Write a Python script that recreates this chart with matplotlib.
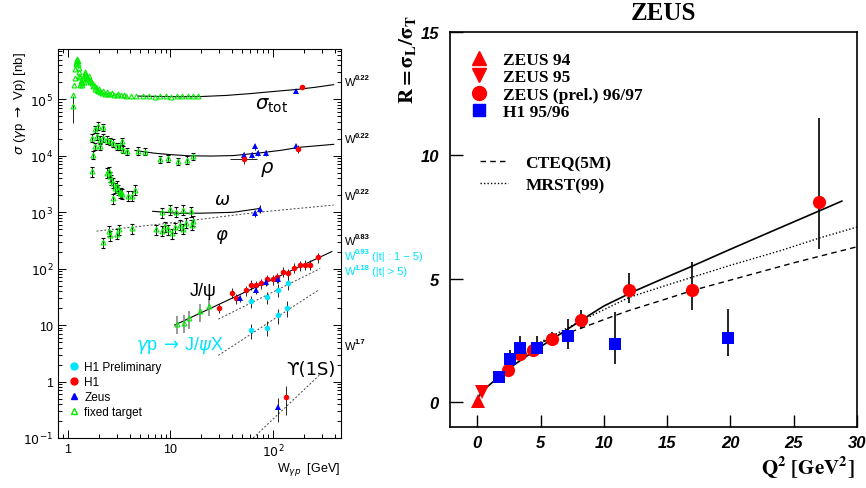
import matplotlib
matplotlib.use("Agg")
import matplotlib.pyplot as plt
from matplotlib.lines import Line2D

# ---------------- left panel: sigma(gamma p -> V p) vs W ----------------
# total cross section, fixed target (nb)
tot_ft_w = [1.11, 1.13, 1.14, 1.16, 1.17, 1.19, 1.20, 1.22, 1.23, 1.25, 1.26, 1.27,
            1.28, 1.29, 1.31, 1.32, 1.33, 1.35, 1.36, 1.38, 1.41, 1.42, 1.44, 1.47,
            1.48, 1.50, 1.53, 1.55, 1.57, 1.60, 1.61, 1.65, 1.68, 1.70, 1.75, 1.78,
            1.83, 1.88, 1.90, 1.95, 2.0, 2.05, 2.15, 2.2, 2.3, 2.4, 2.45, 2.6, 2.7,
            2.8, 3.0, 3.1, 3.3, 3.5, 3.7, 4.1, 4.6, 5.4, 6.2, 7.0, 7.9, 9.0, 10.2,
            11.5, 13.0, 14.8, 16.7, 18.7]
tot_ft_s = [76e3, 120e3, 175e3, 240e3, 340e3, 420e3, 450e3, 500e3, 510e3, 470e3,
            420e3, 260e3, 350e3, 300e3, 250e3, 180e3, 210e3, 190e3, 175e3, 200e3,
            230e3, 200e3, 260e3, 280e3, 300e3, 270e3, 250e3, 230e3, 240e3, 260e3,
            215e3, 200e3, 210e3, 190e3, 170e3, 180e3, 150e3, 165e3, 145e3, 140e3,
            150e3, 133e3, 130e3, 140e3, 125e3, 135e3, 123e3, 122e3, 128e3, 120e3,
            118e3, 122e3, 116e3, 119e3, 115e3, 114e3, 113e3, 112e3, 112e3, 111e3,
            112e3, 112e3, 111e3, 112e3, 113e3, 112e3, 113e3, 113e3]
tot_fit_w = [4.8, 8, 12, 20, 35, 60, 100, 170, 260, 390]
tot_fit_s = [113e3, 111e3, 110e3, 111e3, 116e3, 125e3, 136e3, 148e3, 162e3, 180e3]
tot_zeus_w, tot_zeus_s = [168], [139e3]
tot_h1_w, tot_h1_s = [192], [163e3]

# rho
rho_ft_w = [1.70, 1.77, 1.83, 1.83, 1.90, 1.97, 2.05, 2.05, 2.18, 2.21, 2.38, 2.57,
            2.77, 2.99, 3.22, 3.34, 3.46, 3.73, 4.85, 5.6, 7.9, 9.5, 11.9, 14.4, 16.7]
rho_ft_s = [20.6e3, 10.4e3, 29e3, 14.6e3, 22e3, 34e3, 19.2e3, 14.6e3, 32e3, 20.6e3,
            19.2e3, 17.9e3, 16.8e3, 14.6e3, 14.6e3, 17.9e3, 12.8e3, 11.9e3, 12.2e3,
            11.8e3, 8.7e3, 9.0e3, 7.9e3, 8.5e3, 9.7e3]
rho_fit_w = [4.5, 7, 10, 15, 25, 41, 70, 120, 180, 390]
rho_fit_s = [12.3e3, 11.0e3, 10.4e3, 9.9e3, 9.8e3, 10.0e3, 11.0e3, 12.4e3, 14.0e3, 15.8e3]
rho_zeus_w = [52, 62, 67, 71, 85, 168]
rho_zeus_s = [10.4e3, 10.4e3, 14.5e3, 11.3e3, 11.3e3, 14.5e3]
rho_h1_w, rho_h1_s = [52, 176], [8.8e3, 13.3e3]

# omega
omega_ft_w = [1.70, 2.38, 2.53, 2.57, 2.65, 2.77, 2.77, 2.87, 2.99, 3.10, 3.2, 3.29,
              3.33, 3.87, 4.18, 4.5, 8.2, 9.9, 11.3, 13.1, 15.7]
omega_ft_s = [5.3e3, 5.0e3, 5.3e3, 4.3e3, 3.7e3, 3.3e3, 1.75e3, 2.7e3, 2.9e3, 2.5e3,
              2.2e3, 2.23e3, 2.1e3, 1.95e3, 1.95e3, 2.5e3, 0.99e3, 1.13e3, 1.01e3,
              1.10e3, 1.04e3]
omega_fit_w = [6.7, 12, 20, 41, 75]
omega_fit_s = [1030, 950, 955, 990, 1160]
omega_zeus_w, omega_zeus_s = [75], [1150]

# phi
phi_ft_w = [2.18, 2.53, 2.55, 2.99, 3.17, 4.18, 7.3, 8.2, 8.8, 9.5, 10.3, 11.0, 12.4,
            13.3, 14.1, 16.1, 16.7]
phi_ft_s = [290, 470, 390, 410, 500, 520, 500, 470, 560, 500, 425, 540, 600, 510,
            650, 600, 700]
phi_fit_w = [1.9, 10, 67, 390]
phi_fit_s = [460, 640, 980, 1330]
phi_zeus_w, phi_zeus_s = [67], [960]

# J/psi
jpsi_ft_w = [11.5, 13.5, 15.1, 19.4, 23.7]
jpsi_ft_s = [10.6, 11.0, 13.2, 17.6, 21.8]
jpsi_h1_w = [30, 40, 44, 54, 61, 68, 76, 87, 100, 110, 126, 139, 161, 184, 206, 230, 275]
jpsi_h1_s = [20, 37, 29.5, 41, 52, 50.5, 55, 64, 65, 70, 87, 82, 104, 114, 117, 117, 157]
jpsi_zeus_w = [47.5, 68, 85, 113]
jpsi_zeus_s = [29.5, 42, 58, 65]
jpsi_fit_w = [11, 375]
jpsi_fit_s = [10, 200]
jpsi_t15_w = [61, 87, 112, 140]          # H1 prelim, |t| 1-5
jpsi_t15_s = [26.3, 31, 42, 55]
jpsi_t15_fit_w = [29.3, 288]
jpsi_t15_fit_s = [12.7, 100]
jpsi_t5_w = [61, 87, 112, 138]           # H1 prelim, |t| > 5
jpsi_t5_s = [8.1, 9.0, 15, 20.2]
jpsi_t5_fit_w = [29.3, 276]
jpsi_t5_fit_s = [2.9, 41.4]

# Upsilon(1S)
ups_zeus_w, ups_zeus_s, ups_zeus_lo, ups_zeus_hi = [112], [0.35], [0.19], [0.52]
ups_h1_w, ups_h1_s, ups_h1_lo, ups_h1_hi = [134], [0.53], [0.26], [0.82]
ups_fit_w = [64, 282]
ups_fit_s = [0.1, 1.29]

# power-law labels on the right of the left panel
pow_exps = ["0.22", "0.22", "0.22", "0.83", "0.93", "1.18", "1.7"]
pow_notes = ["", "", "", "", "(|t| : 1 − 5)", "(|t| > 5)", ""]

# ---------------- right panel: R = sigma_L / sigma_T vs Q2 ----------------
z94_q2, z94_r = [0.1], [0.05]
z95_q2, z95_r = [0.4], [0.4]
zp_q2 = [2.4, 3.4, 4.4, 5.9, 8.2, 12.0, 17.0, 27.0]
zp_r = [1.31, 1.95, 2.13, 2.56, 3.35, 4.55, 4.55, 8.12]
zp_lo = [1.15, 1.8, 2.0, 2.29, 2.97, 4.02, 3.75, 6.19]
zp_hi = [1.5, 2.15, 2.3, 2.83, 3.75, 5.23, 5.68, 11.53]
h1_q2 = [1.7, 2.6, 3.4, 4.7, 7.2, 10.9, 19.8]
h1_r = [1.03, 1.75, 2.22, 2.22, 2.67, 2.38, 2.6]
h1_lo = [0.9, 1.5, 1.9, 1.9, 2.15, 1.54, 1.88]
h1_hi = [1.15, 2.13, 2.67, 2.7, 3.37, 3.65, 3.78]
nlo_q2 = [0.05, 0.5, 1.0, 1.8, 3.0, 4.7, 6.5, 8.3, 10, 12.4, 15, 17, 20, 23.6, 27, 28.8]
nlo_r = [0.19, 0.5, 0.72, 1.07, 1.55, 2.15, 2.75, 3.35, 3.9, 4.5, 5.08, 5.52, 6.2, 7.0,
         7.75, 8.15]
cteq_q2 = [4.5, 6, 8.2, 10, 12, 15, 17, 20, 25, 30]
cteq_r = [2.32, 2.6, 3.0, 3.35, 3.72, 4.2, 4.53, 4.95, 5.65, 6.3]
mrst_q2 = [4.5, 7, 9, 12, 15, 17, 20, 24, 27, 30]
mrst_r = [2.3, 2.98, 3.5, 4.25, 4.75, 5.07, 5.55, 6.15, 6.65, 7.1]

GREEN, RED, BLUE, CYAN = "#00ee00", "#ff0000", "#0000ff", "#00e5ff"
SANS = ["Liberation Sans", "DejaVu Sans"]
SERIF = ["Liberation Serif", "DejaVu Serif"]
W_PX, H_PX = 866, 489

fig = plt.figure(figsize=(8.66, 4.89), dpi=100)


def box(l, t, r, b):
    return [l / W_PX, 1 - b / H_PX, (r - l) / W_PX, (b - t) / H_PX]


def ftext(x, y, s, **kw):
    return fig.text(x / W_PX, 1 - y / H_PX, s, **kw)


def rel(vals, frac):
    return [v * frac for v in vals]


axL = fig.add_axes(box(58, 50, 341, 439))
axL.set_xscale("log")
axL.set_yscale("log")
axL.set_xlim(0.8, 460)
axL.set_ylim(0.1, 7.7e5)

ft = dict(fmt="^", ms=3.5, mfc="none", mec=GREEN, mew=0.8, ecolor="k",
          elinewidth=0.6, capsize=1.5, capthick=0.6, zorder=3)
axL.plot(tot_ft_w, tot_ft_s, "^", ms=3.5, mfc="none", mec=GREEN, mew=0.8, zorder=3)
axL.errorbar(tot_ft_w[:1], tot_ft_s[:1], yerr=[[38e3], [37e3]], fmt="none",
             ecolor="k", elinewidth=0.6)
axL.errorbar(rho_ft_w, rho_ft_s, yerr=rel(rho_ft_s, 0.15), **ft)
axL.errorbar(omega_ft_w, omega_ft_s, yerr=rel(omega_ft_s, 0.2), **ft)
axL.errorbar(phi_ft_w, phi_ft_s, yerr=rel(phi_ft_s, 0.2), **ft)
axL.errorbar(jpsi_ft_w, jpsi_ft_s, yerr=rel(jpsi_ft_s, 0.35), fmt="^", ms=3.5,
             mfc="none", mec=GREEN, mew=0.8, ecolor="#888888", elinewidth=1.2, zorder=3)

fitkw = dict(color="k", lw=0.8, zorder=2)
dotkw = dict(color="#444444", lw=0.7, ls=(0, (2, 2)), zorder=2)
axL.plot(tot_fit_w, tot_fit_s, **fitkw)
axL.plot(rho_fit_w, rho_fit_s, **fitkw)
axL.plot(omega_fit_w, omega_fit_s, **fitkw)
axL.plot(phi_fit_w, phi_fit_s, **dotkw)
axL.plot(jpsi_fit_w, jpsi_fit_s, **fitkw)
axL.plot(jpsi_t15_fit_w, jpsi_t15_fit_s, **dotkw)
axL.plot(jpsi_t5_fit_w, jpsi_t5_fit_s, **dotkw)
axL.plot(ups_fit_w, ups_fit_s, **dotkw)

hera = dict(ecolor="k", elinewidth=0.6, capsize=1.5, capthick=0.6, ms=4, mew=0, zorder=4)
axL.errorbar(tot_zeus_w, tot_zeus_s, fmt="^", color=BLUE, **hera)
axL.errorbar(tot_h1_w, tot_h1_s, fmt="o", color=RED, **hera)
axL.errorbar(rho_zeus_w, rho_zeus_s, yerr=rel(rho_zeus_s, 0.12), fmt="^", color=BLUE, **hera)
axL.errorbar(rho_h1_w, rho_h1_s, yerr=rel(rho_h1_s, 0.18), xerr=[[14, 0], [18, 0]],
             fmt="o", color=RED, **hera)
axL.errorbar(omega_zeus_w, omega_zeus_s, yerr=rel(omega_zeus_s, 0.15), fmt="^",
             color=BLUE, **hera)
axL.errorbar(phi_zeus_w, phi_zeus_s, yerr=rel(phi_zeus_s, 0.15), fmt="^", color=BLUE, **hera)
axL.errorbar(jpsi_h1_w, jpsi_h1_s, yerr=rel(jpsi_h1_s, 0.2), fmt="o", color=RED, **hera)
axL.errorbar(jpsi_zeus_w, jpsi_zeus_s, yerr=rel(jpsi_zeus_s, 0.15), fmt="^", color=BLUE, **hera)
axL.errorbar(jpsi_t15_w, jpsi_t15_s, yerr=rel(jpsi_t15_s, 0.25), fmt="o", color=CYAN, **hera)
axL.errorbar(jpsi_t5_w, jpsi_t5_s, yerr=rel(jpsi_t5_s, 0.3), fmt="o", color=CYAN, **hera)
axL.errorbar(ups_zeus_w, ups_zeus_s,
             yerr=[[ups_zeus_s[0] - ups_zeus_lo[0]], [ups_zeus_hi[0] - ups_zeus_s[0]]],
             fmt="^", color=BLUE, **hera)
axL.errorbar(ups_h1_w, ups_h1_s,
             yerr=[[ups_h1_s[0] - ups_h1_lo[0]], [ups_h1_hi[0] - ups_h1_s[0]]],
             fmt="o", color=RED, **hera)

axL.set_xticks([1, 10, 100])
axL.set_xticklabels(["1", "10", "$10^{2}$"], family=SANS, fontsize=9)
axL.set_yticks([0.1, 1, 10, 100, 1e3, 1e4, 1e5])
axL.set_yticklabels(["$10^{-1}$", "1", "10", "$10^{2}$", "$10^{3}$", "$10^{4}$", "$10^{5}$"],
                    family=SANS, fontsize=9)
axL.tick_params(which="both", direction="in", top=True, right=True, width=0.7)
axL.tick_params(which="major", length=6)
axL.tick_params(which="minor", length=3)
for sp in axL.spines.values():
    sp.set_linewidth(0.8)

leg_h = [Line2D([], [], ls="none", marker="o", color=CYAN, ms=5),
         Line2D([], [], ls="none", marker="o", color=RED, ms=5),
         Line2D([], [], ls="none", marker="^", color=BLUE, ms=5),
         Line2D([], [], ls="none", marker="^", mfc="none", mec=GREEN, ms=5)]
axL.legend(leg_h, ["H1 Preliminary", "H1", "Zeus", "fixed target"], loc="lower left",
           bbox_to_anchor=(0.005, 0.03), frameon=False, handlelength=1.0,
           handletextpad=0.4, labelspacing=0.25, borderpad=0.2,
           prop=dict(family=SANS, size=8.5))

# in-plot labels
ftext(272, 106, r"$\sigma_{\rm tot}$", fontsize=14, ha="center", va="center",
      math_fontfamily="dejavusans")
ftext(267, 170, r"$\rho$", fontsize=14, ha="center", va="center", math_fontfamily="dejavusans")
ftext(222, 200, r"$\omega$", fontsize=13, ha="center", va="center", math_fontfamily="dejavusans")
ftext(222, 237, r"$\varphi$", fontsize=13, ha="center", va="center", math_fontfamily="dejavusans")
ftext(203, 292, "J/ψ", fontsize=13, ha="center", va="center", family=SANS)
ftext(180, 346, r"$\gamma$p$\,\rightarrow\,$J/$\psi$X", fontsize=13, ha="center",
      va="center", color=CYAN, family=SANS, math_fontfamily="dejavusans")
ftext(311, 370, "ϒ(1S)", fontsize=13, ha="center", va="center", family=["DejaVu Sans"])

# W^n labels: base, small exponent and note as separate texts so they stack tightly
pow_y = [83, 140, 197, 242, 257, 272, 347]
pow_col = ["k", "k", "k", "k", CYAN, CYAN, "k"]
for y, e, note, c in zip(pow_y, pow_exps, pow_notes, pow_col):
    ftext(345, y, "W", fontsize=8, ha="left", va="center", family=SANS, color=c)
    ftext(355, y - 4, e, fontsize=5.5, ha="left", va="center", family=SANS, color=c,
          fontweight="bold")
    if note:
        ftext(372, y, note, fontsize=8, ha="left", va="center", family=SANS, color=c)

ftext(20, 52, r"$\sigma$ ($\gamma$p $\rightarrow$ Vp) [nb]", rotation=90, ha="center",
      va="top", fontsize=9.5, family=SANS, math_fontfamily="dejavusans")
ftext(340, 470, r"W$_{\gamma p}$  [GeV]", ha="right", va="center", fontsize=9,
      family=SANS, math_fontfamily="dejavusans")

# ---------------- right panel ----------------
axR = fig.add_axes(box(450, 33, 857, 428))
axR.set_xlim(-2.15, 30)
axR.set_ylim(-1.0, 15)

axR.plot(nlo_q2, nlo_r, color="k", lw=1.2, zorder=2)
axR.plot(cteq_q2, cteq_r, color="k", lw=1.0, ls=(0, (4, 3)), zorder=2)
axR.plot(mrst_q2, mrst_r, color="k", lw=1.0, ls=(0, (1, 1.5)), zorder=2)

ekw = dict(ecolor="k", elinewidth=1.2, capsize=0, mew=0, zorder=3)
axR.errorbar(zp_q2, zp_r, yerr=[[r - lo for r, lo in zip(zp_r, zp_lo)],
                                [hi - r for r, hi in zip(zp_r, zp_hi)]],
             fmt="o", color=RED, ms=9.5, **ekw)
axR.errorbar(h1_q2, h1_r, yerr=[[r - lo for r, lo in zip(h1_r, h1_lo)],
                                [hi - r for r, hi in zip(h1_r, h1_hi)]],
             fmt="s", color=BLUE, ms=8.5, **ekw)
axR.plot(z94_q2, z94_r, "^", color=RED, ms=9.5, mew=0, zorder=3)
axR.plot(z95_q2, z95_r, "v", color=RED, ms=9.5, mew=0, zorder=3)

axR.set_xticks(range(0, 31, 5))
axR.set_yticks([0, 5, 10, 15])
axR.tick_params(direction="in", length=9, width=1.0)
axR.tick_params(axis="x", pad=6)
axR.tick_params(axis="y", pad=8)
for lab in axR.get_xticklabels() + axR.get_yticklabels():
    lab.set_fontfamily(SANS)
    lab.set_fontstyle("italic")
    lab.set_fontweight("bold")
    lab.set_fontsize(12)
for sp in axR.spines.values():
    sp.set_linewidth(1.2)

mk_h = [Line2D([], [], ls="none", marker="^", color=RED, ms=10),
        Line2D([], [], ls="none", marker="v", color=RED, ms=10),
        Line2D([], [], ls="none", marker="o", color=RED, ms=10),
        Line2D([], [], ls="none", marker="s", color=BLUE, ms=9)]
leg1 = axR.legend(mk_h, ["ZEUS 94", "ZEUS 95", "ZEUS (prel.) 96/97", "H1 95/96"],
                  loc="upper left", bbox_to_anchor=(0.02, 0.98), frameon=False,
                  handlelength=1.0, handletextpad=0.9, labelspacing=0.06,
                  borderpad=0.2, prop=dict(family=SERIF, weight="bold", size=12.5))
axR.add_artist(leg1)
ln_h = [Line2D([], [], color="k", lw=1.0, ls=(0, (4, 3))),
        Line2D([], [], color="k", lw=1.0, ls=(0, (1, 1.5)))]
axR.legend(ln_h, ["CTEQ(5M)", "MRST(99)"], loc="upper left",
           bbox_to_anchor=(0.045, 0.72), frameon=False, handlelength=1.6,
           handletextpad=1.0, labelspacing=0.35, borderpad=0.2,
           prop=dict(family=SERIF, weight="bold", size=12.5))

ftext(663, 14, "ZEUS", ha="center", va="center", fontsize=18, fontweight="bold",
      family=SERIF)
ftext(408, 15, r"$\mathbf{R{=}\sigma_L/\sigma_T}$", rotation=90, ha="center", va="top",
      fontsize=15, math_fontfamily="stix")
ftext(855, 468, r"$\mathbf{Q^2\ [GeV^2]}$", ha="right", va="center", fontsize=15,
      math_fontfamily="stix")

fig.savefig("out.png", dpi=100)
